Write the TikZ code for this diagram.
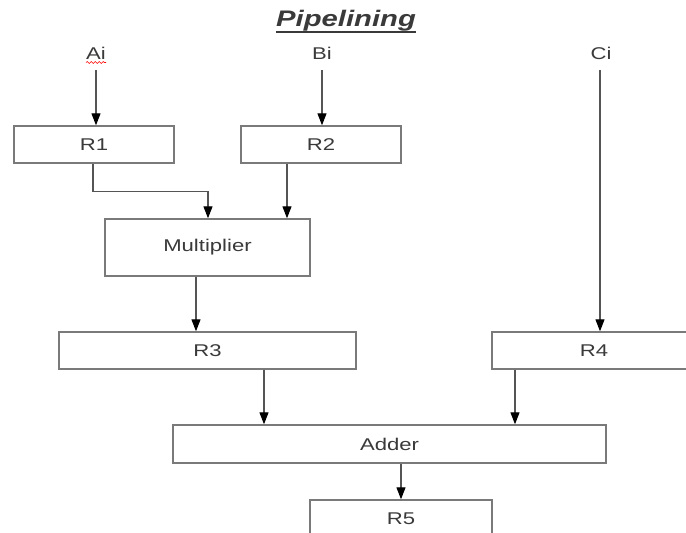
\documentclass[tikz,border=0pt]{standalone}
\usepackage{fontspec}
\setmainfont{Liberation Sans}[FakeStretch=1.3]
\usetikzlibrary{arrows.meta,decorations.pathmorphing}
\definecolor{txt}{HTML}{3A3A3A}
\definecolor{boxline}{HTML}{7A7A7A}
\definecolor{wire}{HTML}{555555}
\tikzset{
  regbox/.style={draw=boxline, line width=1.4pt, fill=white, text=txt, inner sep=0pt,
    font=\fontsize{17}{20}\selectfont},
  lbl/.style={text=txt, inner sep=0pt, anchor=base, font=\fontsize{17}{20}\selectfont},
  arr/.style={draw=wire, line width=1.2pt, -{Triangle[length=12pt,width=9pt,fill=black,color=black]}},
}
\begin{document}
\begin{tikzpicture}[x=1pt,y=-1pt]
\useasboundingbox (0,0) rectangle (686,533);
\fill[white] (0,0) rectangle (686,533);
\begin{scope}
\clip (0,0) rectangle (686,533);
% title
\node[inner sep=0pt, anchor=base, text=txt, font=\fontsize{22.5}{26}\selectfont\bfseries\itshape] (title) at (346,26) {Pipelining};
\draw[txt, line width=1.6pt] ([yshift=-6pt]title.base west) -- ([yshift=-6pt]title.base east);
% input labels
\node[lbl] (ai) at (96,59) {Ai};
\node[lbl] (bi) at (322,59) {Bi};
\node[lbl] (ci) at (601,59) {Ci};
\draw[red, line width=0.6pt, decorate, decoration={snake, amplitude=0.9pt, segment length=4pt}] (86,62.5) -- (106,62.5);
\coordinate (aiS) at (96,70);
\coordinate (biS) at (322,70);
\coordinate (ciS) at (600,70);
% boxes
\node[regbox, minimum width=160pt, minimum height=37pt] (r1) at (94,144.5) {R1};
\node[regbox, minimum width=160pt, minimum height=37pt] (r2) at (321,144.5) {R2};
\node[regbox, minimum width=205pt, minimum height=57pt] (mul) at (207.5,247.5) {Multiplier};
\node[regbox, minimum width=297pt, minimum height=37pt] (r3) at (207.5,350.5) {R3};
\node[regbox, minimum width=204pt, minimum height=37pt] (r4) at (594,350.5) {R4};
\node[regbox, minimum width=433pt, minimum height=38pt] (add) at (389.5,444) {Adder};
\node[regbox, minimum width=182pt, minimum height=38pt] (r5) at (401,519) {R5};
% connectors
\draw[arr] (aiS) -- (aiS |- r1.north);
\draw[arr] (biS) -- (biS |- r2.north);
\draw[arr] (ciS) -- (ciS |- r4.north);
\draw[arr] ([xshift=-1pt]r1.south) -- ++(0,28) -| ([xshift=0.5pt]mul.north);
\draw[arr] ([xshift=-34pt]r2.south) -- ([xshift=79.5pt]mul.north);
\draw[arr] ([xshift=-11.5pt]mul.south) -- ([xshift=-11.5pt]r3.north);
\draw[arr] ([xshift=56.5pt]r3.south) -- ([xshift=-125.5pt]add.north);
\draw[arr] ([xshift=-79pt]r4.south) -- ([xshift=125.5pt]add.north);
\draw[arr] ([xshift=11.5pt]add.south) -- (r5.north);
\end{scope}
\end{tikzpicture}
\end{document}
